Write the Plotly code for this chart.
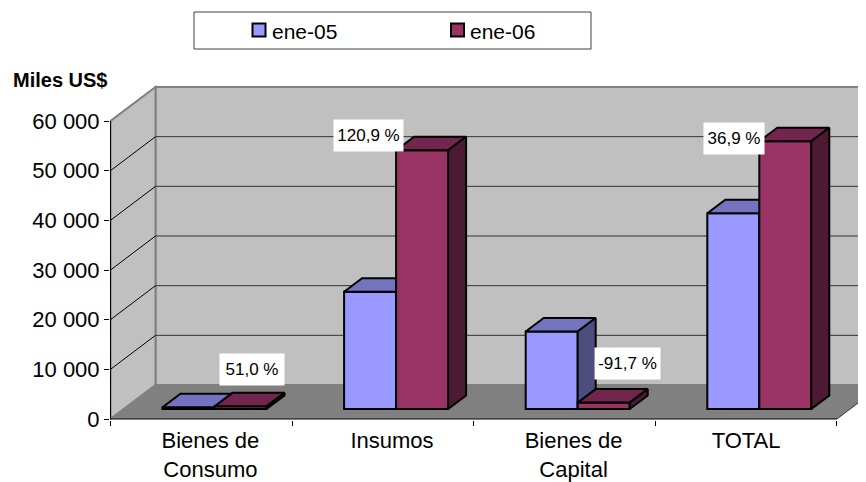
import plotly.graph_objects as go

categorias = ['Bienes de<br>Consumo', 'Insumos', 'Bienes de<br>Capital', 'TOTAL']
ene_05 = [350, 23600, 15600, 39400]
ene_06 = [530, 52100, 1290, 53900]
variacion = ['51,0 %', '120,9 %', '-91,7 %', '36,9 %']
y_ticks = [0, 10000, 20000, 30000, 40000, 50000, 60000]
y_text = ['0', '10 000', '20 000', '30 000', '40 000', '50 000', '60 000']

FONT = 'Liberation Sans, Arial, sans-serif'

# the page puts the figure 8 px from its corner
PAGE = 8

# pixels of the plot area and scale of the front plane
LEFT, RIGHT, TOP, BOTTOM = 110, 866, 80, 420
PX_CAT = 181.6
PX_VAL = 298 / 60000


def px_x(px):
    return (px - 110.5) / PX_CAT


def px_y(py):
    return (419 - py) / PX_VAL


def paper_x(px):
    return (px - LEFT) / (RIGHT - LEFT)


def paper_y(py):
    return (BOTTOM - py) / (BOTTOM - TOP)


# oblique offsets of the chart box and of the bars, in axis units
BOX_DX, BOX_DY = 45 / PX_CAT, 34 / PX_VAL
BAR_DX, BAR_DY = 18 / PX_CAT, 13.5 / PX_VAL
LIFT_X, LIFT_Y = 13 / PX_CAT, 10 / PX_VAL
BAR_W = 52 / PX_CAT
GAP = 39 / PX_CAT
X_MAX = 4

fig = go.Figure()


def poligono(puntos):
    return 'M' + 'L'.join(f'{x},{y}' for x, y in puntos) + 'Z'


def cara(xs, ys, color, nombre, eje):
    fig.add_trace(go.Scatter(x=xs, y=ys, mode='lines', fill='toself', fillcolor=color,
                             line=dict(color='black', width=2), name=nombre,
                             hoverinfo='skip', showlegend=False, xaxis=eje[0], yaxis=eje[1]))


def serie(valores, nombre, pos, frente, arriba, lado, eje):
    lefts = [i + GAP + LIFT_X + pos * BAR_W for i in range(len(valores))]

    fig.add_trace(go.Bar(x=[l + BAR_W / 2 for l in lefts], y=valores, base=LIFT_Y, width=BAR_W,
                         name=nombre, marker=dict(color=frente, line=dict(color='black', width=2)),
                         showlegend=False, xaxis=eje[0], yaxis=eje[1]))

    for l, v in zip(lefts, valores):
        tope = LIFT_Y + v
        r = l + BAR_W
        cara([l, r, r + BAR_DX, l + BAR_DX, l], [tope, tope, tope + BAR_DY, tope + BAR_DY, tope],
             arriba, nombre, eje)
        cara([r, r, r + BAR_DX, r + BAR_DX, r], [LIFT_Y, tope, tope + BAR_DY, LIFT_Y + BAR_DY, LIFT_Y],
             lado, nombre, eje)


serie(ene_05, 'ene-05', 0, '#9999FF', '#7373BF', '#4D4D80', ('x', 'y'))
serie(ene_06, 'ene-06', 1, '#993366', '#73264D', '#4D1A33', ('x2', 'y2'))

y_tope = y_ticks[-1]

formas = [
    # back wall, left wall and floor
    dict(type='path', path=poligono([(BOX_DX, BOX_DY), (BOX_DX, y_tope + BOX_DY), (X_MAX + BOX_DX, y_tope + BOX_DY),
                                     (X_MAX + BOX_DX, BOX_DY)]),
         fillcolor='#C0C0C0', line=dict(color='#808080', width=2), layer='below'),
    dict(type='path', path=poligono([(0, 0), (0, y_tope), (BOX_DX, y_tope + BOX_DY), (BOX_DX, BOX_DY)]),
         fillcolor='#C0C0C0', line=dict(color='#808080', width=2), layer='below'),
    dict(type='path', path=poligono([(0, 0), (X_MAX, 0), (X_MAX + BOX_DX, BOX_DY), (BOX_DX, BOX_DY)]),
         fillcolor='#808080', line=dict(width=0), layer='below'),
    dict(type='line', x0=X_MAX, y0=0, x1=X_MAX + BOX_DX, y1=BOX_DY, line=dict(color='#333333', width=1), layer='below'),
]

for t in y_ticks[1:]:
    if t < y_tope:
        formas.append(dict(type='line', x0=BOX_DX, y0=t + BOX_DY, x1=X_MAX + BOX_DX, y1=t + BOX_DY,
                           line=dict(color='#333333', width=1), layer='below'))
        formas.append(dict(type='line', x0=0, y0=t, x1=BOX_DX, y1=t + BOX_DY,
                           line=dict(color='black', width=1), layer='below'))

# front axis lines
formas.append(dict(type='line', x0=0, y0=0, x1=0, y1=y_tope, line=dict(color='black', width=1), layer='below'))
formas.append(dict(type='line', x0=0, y0=0, x1=X_MAX, y1=0, line=dict(color='black', width=1), layer='below'))

# legend box and swatches
formas.append(dict(type='rect', xref='paper', yref='paper', x0=paper_x(194), x1=paper_x(591),
                   y0=paper_y(12), y1=paper_y(49), line=dict(color='#404040', width=1), fillcolor='white'))
formas.append(dict(type='rect', xref='paper', yref='paper', x0=paper_x(252.5), x1=paper_x(265.5),
                   y0=paper_y(23.5), y1=paper_y(36.5), line=dict(color='black', width=2), fillcolor='#9999FF'))
formas.append(dict(type='rect', xref='paper', yref='paper', x0=paper_x(451), x1=paper_x(464),
                   y0=paper_y(23.5), y1=paper_y(36.5), line=dict(color='black', width=2), fillcolor='#993366'))

notas = [
    dict(text='ene-05', xref='paper', yref='paper', x=paper_x(270), y=paper_y(31), xanchor='left',
         yanchor='middle', showarrow=False, font=dict(size=21, color='black', family=FONT)),
    dict(text='ene-06', xref='paper', yref='paper', x=paper_x(468), y=paper_y(31), xanchor='left',
         yanchor='middle', showarrow=False, font=dict(size=21, color='black', family=FONT)),
    dict(text='<b>Miles US$</b>', xref='paper', yref='paper', x=paper_x(11), y=paper_y(80), xanchor='left',
         yanchor='middle', showarrow=False, font=dict(size=20, color='black', family=FONT)),
]

# white boxes with the percent change
cajas = [(220, 284, 354, 385), (334, 403, 120, 151), (595, 660, 348, 379), (704, 764, 123, 154)]
for txt, (x0, x1, y0, y1) in zip(variacion, cajas):
    notas.append(dict(text=txt, x=px_x((x0 + x1) / 2), y=px_y((y0 + y1) / 2), xref='x', yref='y',
                      width=x1 - x0, height=y1 - y0, borderpad=0, bgcolor='white', showarrow=False,
                      font=dict(size=17, color='black', family=FONT)))

x_rango = [px_x(LEFT), px_x(RIGHT)]
y_rango = [px_y(BOTTOM), px_y(TOP)]

fig.update_layout(
    width=866 - PAGE,
    height=482 - PAGE,
    margin=dict(l=LEFT - PAGE, r=866 - RIGHT, t=TOP - PAGE, b=482 - BOTTOM, pad=0, autoexpand=False),
    showlegend=False,
    paper_bgcolor='white',
    plot_bgcolor='white',
    font=dict(family=FONT, size=22, color='black'),
    shapes=formas,
    annotations=notas,
    xaxis=dict(range=x_rango, tickvals=[0.55, 1.55, 2.55, 3.5], ticktext=categorias, ticks='outside', ticklen=0,
               ticklabelstandoff=1, showgrid=False, zeroline=False, showline=False, automargin=False,
               minor=dict(tickvals=[0, 1, 2, 3, 4], ticks='outside', ticklen=5, tickcolor='black', showgrid=False)),
    yaxis=dict(range=y_rango, tickvals=y_ticks, ticktext=y_text, ticks='outside', ticklen=5, tickcolor='black',
               showgrid=False, zeroline=False, showline=False, automargin=False),
    xaxis2=dict(range=x_rango, overlaying='x', visible=False),
    yaxis2=dict(range=y_rango, overlaying='y', visible=False),
)

fig.write_html("out.html")
